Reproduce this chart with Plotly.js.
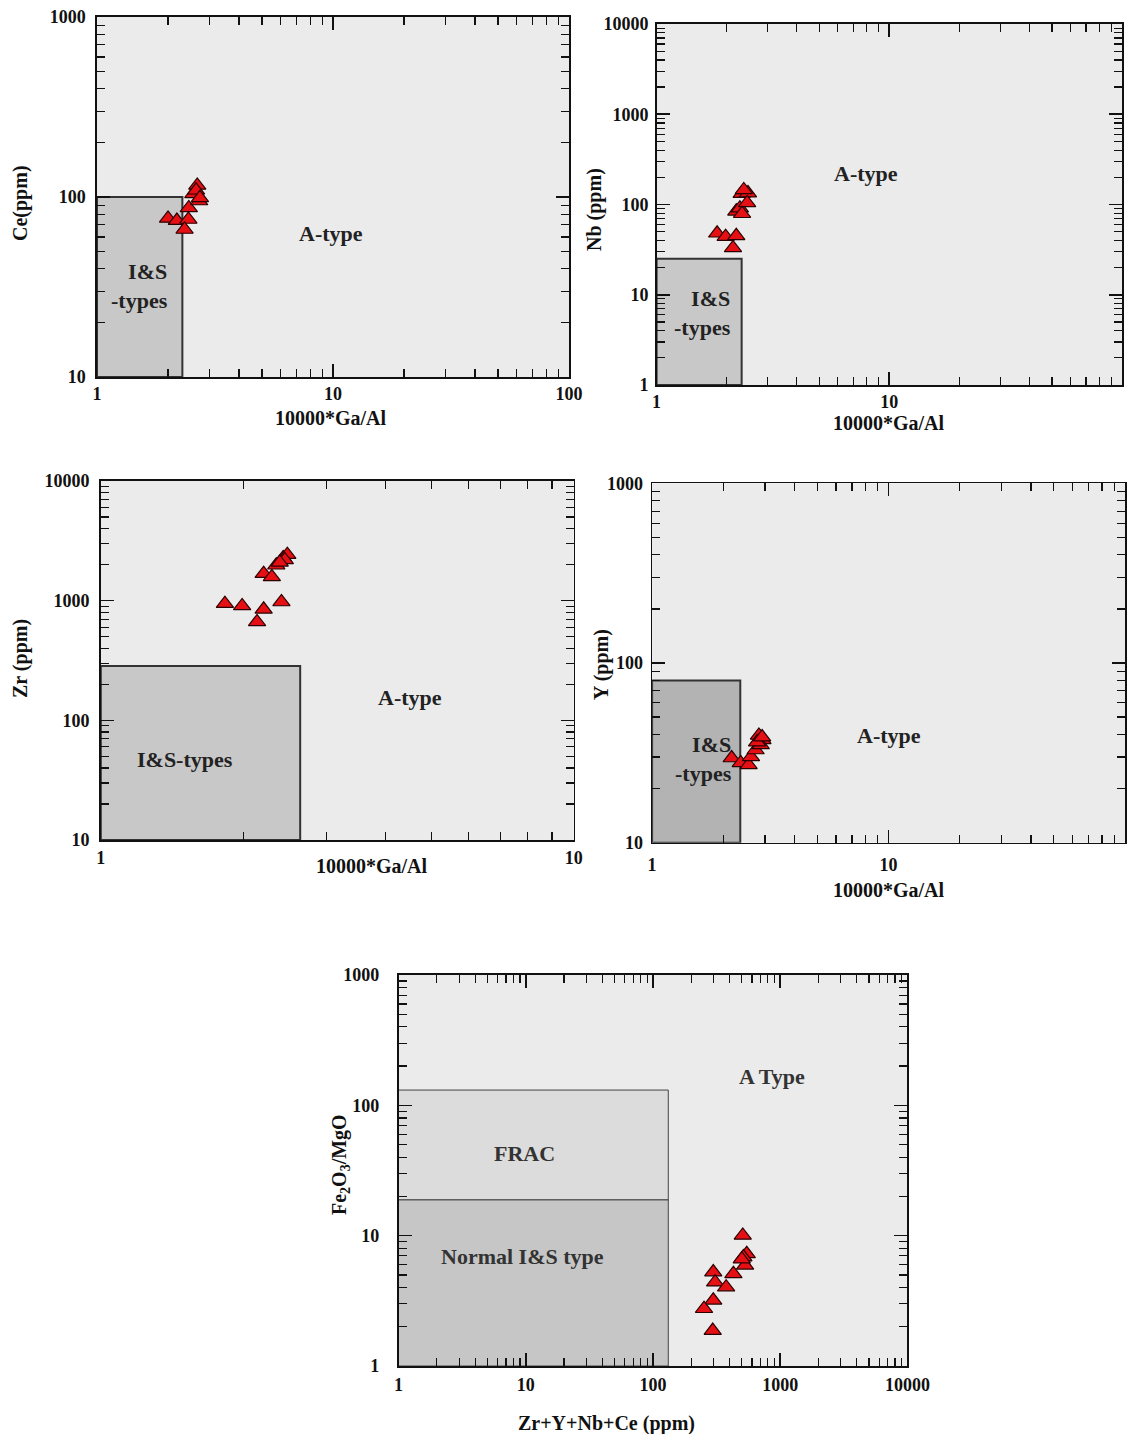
<!DOCTYPE html>
<html><head><meta charset="utf-8">
<script src="https://cdn.plot.ly/plotly-3.0.1.min.js"></script>
<style>html,body{margin:0;padding:0;background:#fff}#chart{width:1131px;height:1434px}</style>
</head><body><div id="chart"></div>
<script>
// ---------- data ----------
// Panel 1: Ce vs 10000*Ga/Al
var ceGaAl = [2.00, 2.18, 2.44, 2.35, 2.45, 2.56, 2.66, 2.71, 2.63, 2.73];
var ceVals = [76, 74, 75, 66, 87, 104, 116, 95, 109, 99];
// Panel 2: Nb vs 10000*Ga/Al
var nbGaAl = [1.82, 1.98, 2.20, 2.13, 2.20, 2.28, 2.32, 2.47, 2.45, 2.37, 2.33];
var nbVals = [48, 44, 45, 33, 84, 91, 132, 134, 104, 145, 79];
// Panel 3: Zr vs 10000*Ga/Al
var zrGaAl = [1.83, 1.99, 2.21, 2.14, 2.41, 2.21, 2.30, 2.35, 2.43, 2.48, 2.45, 2.39];
var zrVals = [944, 904, 847, 664, 975, 1683, 1578, 1977, 2275, 2421, 2188, 2090];
// Panel 4: Y vs 10000*Ga/Al
var yGaAl = [2.17, 2.37, 2.56, 2.62, 2.74, 2.83, 2.93, 2.88, 2.78, 2.92];
var yVals = [29.6, 27.8, 27.1, 30.0, 32.8, 39.5, 37.3, 35.0, 36.3, 38.7];
// Panel 5: Fe2O3/MgO vs Zr+Y+Nb+Ce
var sumHFSE = [508, 546, 514, 530, 429, 298, 308, 376, 298, 252, 295, 499];
var feMg = [10.05, 7.26, 6.85, 5.92, 5.10, 5.26, 4.40, 4.03, 3.19, 2.75, 1.87, 6.6];

// field boundaries
var ceFieldX = [1, 2.3], ceFieldY = [10, 100];
var nbFieldX = [1, 2.32], nbFieldY = [1, 25];
var zrFieldX = [1, 2.64], zrFieldY = [10, 285];
var yFieldX = [1, 2.36], yFieldY = [10, 80];
var fracX = [1, 132], fracY = [18.8, 131];
var normalX = [1, 132], normalY = [1, 18.8];

// tick labels
var ticks1to100 = [1, 10, 100], ticks1to100Text = ['1', '10', '100'];
var ticks10to1000 = [10, 100, 1000], ticks10to1000Text = ['10', '100', '1000'];
var ticks1to10000 = [1, 10, 100, 1000, 10000], ticks1to10000Text = ['1', '10', '100', '1000', '10000'];
var ticks10to10000 = [10, 100, 1000, 10000], ticks10to10000Text = ['10', '100', '1000', '10000'];
var ticks1to10 = [1, 10], ticks1to10Text = ['1', '10'];
var ticks1to1000 = [1, 10, 100, 1000], ticks1to1000Text = ['1', '10', '100', '1000'];

// ---------- helpers ----------
var W = 1131, H = 1434;
var FONT = 'Liberation Serif, Times New Roman, serif';
function minorVals(d0, d1) {
  var out = [];
  for (var d = d0; d < d1; d++) for (var k = 2; k <= 9; k++) out.push(k * Math.pow(10, d));
  return out;
}
function axis(dom, rng, tv, tt, anchor, standoff) {
  return {
    type: 'log', range: rng, domain: dom, anchor: anchor,
    showline: true, linecolor: '#111', linewidth: 1.6, mirror: 'allticks',
    ticks: 'inside', ticklen: 13, tickwidth: 1.6, tickcolor: '#111',
    tickmode: 'array', tickvals: tv, ticktext: tt,
    tickfont: {family: FONT, size: 18, color: '#111', weight: 'bold'},
    ticklabelstandoff: standoff,
    showgrid: false, zeroline: false, fixedrange: true,
    minor: {tickmode: 'array', tickvals: minorVals(rng[0], rng[1]), ticks: 'inside',
            ticklen: 8, tickwidth: 1.2, tickcolor: '#111', showgrid: false}
  };
}
function px2x(px) { return px / W; }
function py2y(py) { return 1 - py / H; }
function box(xs, ys, xa, ya, fill, lc, lw) {
  return {x: [xs[0], xs[1], xs[1], xs[0], xs[0]], y: [ys[0], ys[0], ys[1], ys[1], ys[0]],
    xaxis: xa, yaxis: ya, mode: 'lines', fill: 'toself', fillcolor: fill,
    line: {color: lc, width: lw}, hoverinfo: 'skip', showlegend: false};
}
function pts(xs, ys, xa, ya) {
  return {x: xs, y: ys, xaxis: xa, yaxis: ya, mode: 'markers', showlegend: false,
    marker: {symbol: 'triangle-up', size: 15, color: '#e50f14', line: {color: '#2a0000', width: 1.2}}};
}
function lab(text, x, y, xa, ya, extra) {
  var a = {text: text, x: Math.log10(x), y: Math.log10(y), xref: xa, yref: ya, showarrow: false,
    font: {family: FONT, size: 22, color: '#222', weight: 'bold'}};
  for (var k in extra) a[k] = extra[k];
  return a;
}
function title(text, px, py, rot) {
  return {text: text, x: px2x(px), y: py2y(py), xref: 'paper', yref: 'paper', showarrow: false,
    textangle: rot || 0, xanchor: 'center', yanchor: 'middle',
    font: {family: FONT, size: 20, color: '#111', weight: 'bold'}};
}

var traces = [
  box(ceFieldX, ceFieldY, 'x', 'y', '#c8c8c8', '#333', 2),
  box(nbFieldX, nbFieldY, 'x2', 'y2', '#c8c8c8', '#333', 2),
  box(zrFieldX, zrFieldY, 'x3', 'y3', '#c8c8c8', '#333', 2),
  box(yFieldX, yFieldY, 'x4', 'y4', '#b3b3b3', '#333', 2),
  box(fracX, fracY, 'x5', 'y5', '#dcdcdc', '#444', 1),
  box(normalX, normalY, 'x5', 'y5', '#c6c6c6', '#444', 1),
  pts(ceGaAl, ceVals, 'x', 'y'),
  pts(nbGaAl, nbVals, 'x2', 'y2'),
  pts(zrGaAl, zrVals, 'x3', 'y3'),
  pts(yGaAl, yVals, 'x4', 'y4'),
  pts(sumHFSE, feMg, 'x5', 'y5')
];

var layout = {
  width: W, height: H, margin: {l: 0, r: 0, t: 0, b: 0},
  paper_bgcolor: '#ffffff', plot_bgcolor: '#ebebeb', showlegend: false,
  xaxis: axis([px2x(97), px2x(569)], [0, 2], ticks1to100, ticks1to100Text, 'y', 0),
  yaxis: axis([py2y(377), py2y(17)], [1, 3], ticks10to1000, ticks10to1000Text, 'x', 6),
  xaxis2: axis([px2x(656.6), px2x(1122)], [0, 2], ticks1to100, ticks1to100Text, 'y2', 0),
  yaxis2: axis([py2y(385), py2y(24)], [0, 4], ticks1to10000, ticks1to10000Text, 'x2', 3),
  xaxis3: axis([px2x(100.8), px2x(573.7)], [0, 1], ticks1to10, ticks1to10Text, 'y3', 1),
  yaxis3: axis([py2y(840), py2y(481)], [1, 4], ticks10to10000, ticks10to10000Text, 'x3', 6),
  xaxis4: axis([px2x(652.1), px2x(1125)], [0, 2], ticks1to100, ticks1to100Text, 'y4', 5),
  yaxis4: axis([py2y(842.7), py2y(483.3)], [1, 3], ticks10to1000, ticks10to1000Text, 'x4', 4),
  xaxis5: axis([px2x(398.5), px2x(907.4)], [0, 4], ticks1to10000, ticks1to10000Text, 'y5', 2),
  yaxis5: axis([py2y(1366), py2y(975)], [0, 3], ticks1to1000, ticks1to1000Text, 'x5', 14),
  annotations: [
    title('10000*Ga/Al', 331, 418), title('Ce(ppm)', 20, 203, -90),
    title('10000*Ga/Al', 889, 423), title('Nb (ppm)', 594, 210, -90),
    title('10000*Ga/Al', 371.5, 866), title('Zr (ppm)', 20, 659, -90),
    title('10000*Ga/Al', 888.5, 890), title('Y (ppm)', 601, 665, -90),
    title('Zr+Y+Nb+Ce (ppm)', 606, 1423), title('Fe<sub>2</sub>O<sub>3</sub>/MgO', 340, 1165, -90),
    lab('A-type', 9.8, 63, 'x', 'y'),
    lab('I&amp;S<br>-types', 2.04, 32, 'x', 'y', {xanchor: 'right', align: 'right'}),
    lab('A-type', 7.95, 223, 'x2', 'y2'),
    lab('I&amp;S<br>-types', 2.13, 6.3, 'x2', 'y2', {xanchor: 'right', align: 'right'}),
    lab('A-type', 4.5, 154, 'x3', 'y3'),
    lab('I&amp;S-types', 1.51, 46.7, 'x3', 'y3'),
    lab('A-type', 10, 39.7, 'x4', 'y4'),
    lab('I&amp;S<br>-types', 2.22, 29.4, 'x4', 'y4', {xanchor: 'right', align: 'right'}),
    lab('A Type', 857, 166, 'x5', 'y5', {font: {family: FONT, size: 22, color: '#333', weight: 'bold'}}),
    lab('FRAC', 9.8, 42.9, 'x5', 'y5', {font: {family: FONT, size: 22, color: '#333', weight: 'bold'}}),
    lab('Normal I&amp;S type', 9.35, 6.97, 'x5', 'y5', {font: {family: FONT, size: 22, color: '#333', weight: 'bold'}})
  ]
};

Plotly.newPlot('chart', traces, layout, {staticPlot: true, displayModeBar: false});
</script></body></html>
